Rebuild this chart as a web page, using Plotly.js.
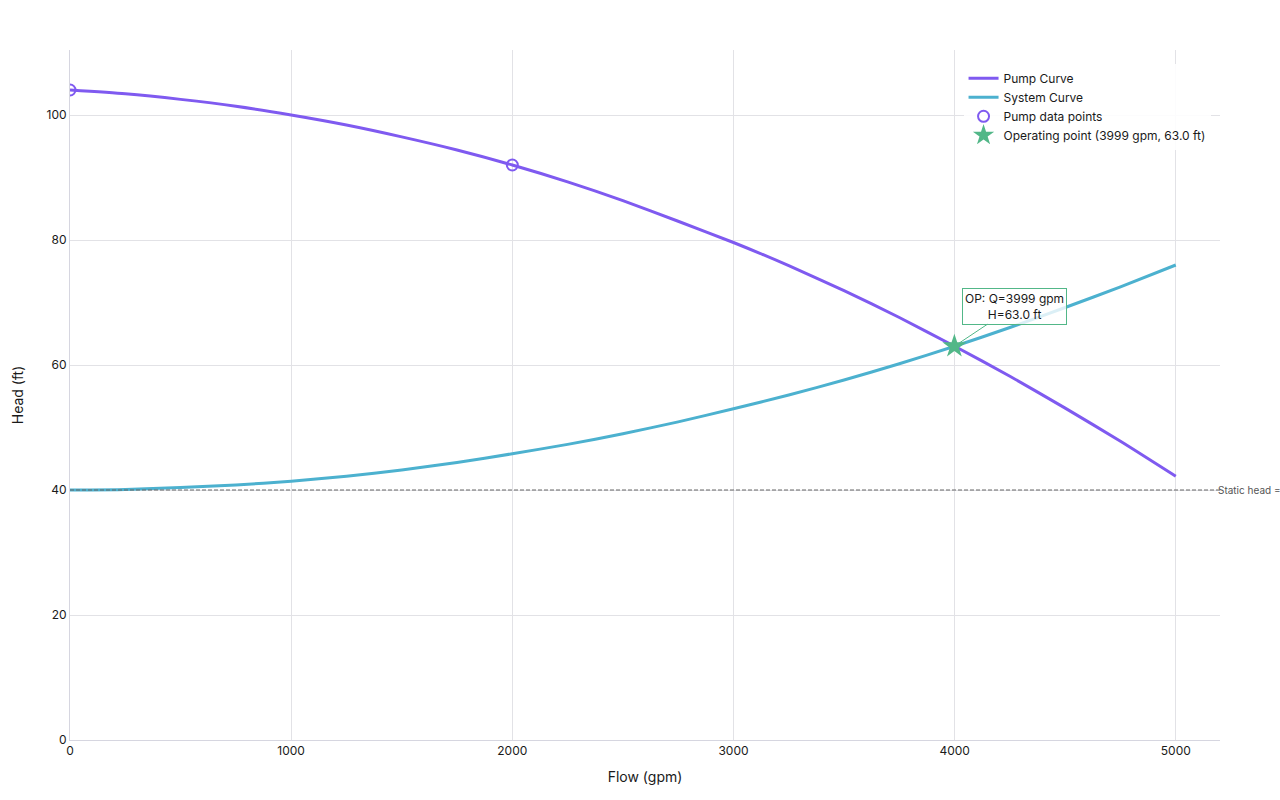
<!DOCTYPE html>
<html>
<head>
<meta charset="utf-8">
<script src="https://cdn.plot.ly/plotly-3.0.1.min.js"></script>
<style>html,body{margin:0;padding:0;background:#fff;}#chart{width:1280px;height:800px;}</style>
</head>
<body>
<div id="chart"></div>
<script>
// Flow values (gpm) for the curves
var flowGpm = [0, 250, 500, 750, 1000, 1250, 1500, 1750, 2000, 2250, 2500, 2750, 3000, 3250, 3500, 3750, 4000, 4250, 4500, 4750, 5000];
// Pump curve head (ft)
var pumpHead = [104, 103.4, 102.5, 101.4, 100, 98.4, 96.5, 94.4, 92, 89.3, 86.3, 83.0, 79.6, 75.9, 71.9, 67.6, 63.0, 58.2, 53.1, 47.8, 42.2];
// System curve head (ft)
var systemHead = [40, 40.1, 40.4, 40.8, 41.4, 42.2, 43.2, 44.4, 45.8, 47.3, 49.0, 50.9, 53.0, 55.2, 57.6, 60.2, 63.0, 66.0, 69.2, 72.5, 76.0];
// Pump data points
var pumpDataFlow = [0, 2000];
var pumpDataHead = [104, 92];
// Operating point
var opFlow = [3999];
var opHead = [63.0];
var staticHead = 40;

var font = "Inter, 'Helvetica Neue', Arial, sans-serif";

var traces = [
  {x: flowGpm, y: pumpHead, mode: 'lines', name: 'Pump Curve', line: {color: '#7f5af0', width: 3, shape: 'spline', smoothing: 0.6}},
  {x: flowGpm, y: systemHead, mode: 'lines', name: 'System Curve', line: {color: '#4cb1cf', width: 3, shape: 'spline', smoothing: 0.6}},
  {x: pumpDataFlow, y: pumpDataHead, mode: 'markers', name: 'Pump data points',
   marker: {symbol: 'circle-open', size: 11, color: '#7f5af0', line: {width: 2, color: '#7f5af0'}}},
  {x: opFlow, y: opHead, mode: 'markers', name: 'Operating point (' + opFlow[0] + ' gpm, ' + opHead[0].toFixed(1) + ' ft)',
   marker: {symbol: 'star', size: 18, color: '#52b788'}}
];

var layout = {
  width: 1280, height: 800,
  margin: {l: 70, r: 60, t: 50, b: 60},
  paper_bgcolor: '#ffffff', plot_bgcolor: '#ffffff',
  font: {family: font, size: 12, color: '#1a1a1a'},
  showlegend: true,
  legend: {x: 0.777, y: 0.98, xanchor: 'left', yanchor: 'top', bgcolor: 'rgba(255,255,255,0.9)', font: {size: 12, family: font, color: '#1a1a1a'}},
  xaxis: {
    title: {text: 'Flow (gpm)', font: {size: 14, family: font}, standoff: 14},
    range: [0, 5200], dtick: 1000, tick0: 0,
    showgrid: true, gridcolor: '#e2e2e6', zeroline: false,
    showline: true, linecolor: '#d6d6e0', linewidth: 1,
    ticks: '', tickfont: {size: 12}, automargin: false
  },
  yaxis: {
    title: {text: 'Head (ft)', font: {size: 14, family: font}, standoff: 19},
    range: [0, 110.4], dtick: 20, tick0: 0,
    showgrid: true, gridcolor: '#e2e2e6', zeroline: false,
    showline: true, linecolor: '#d6d6e0', linewidth: 1,
    ticks: '', tickfont: {size: 12}, automargin: false
  },
  shapes: [
    {type: 'line', xref: 'paper', x0: 0, x1: 1, yref: 'y', y0: staticHead, y1: staticHead,
     line: {color: '#666', width: 1, dash: '4px,2px'}}
  ],
  annotations: [
    {xref: 'paper', x: 1, yref: 'y', y: staticHead, xanchor: 'left', yanchor: 'middle', xshift: -4,
     text: 'Static head = ' + staticHead + ' ft', showarrow: false, font: {size: 10, color: '#555', family: font}},
    {x: opFlow[0], y: opHead[0], xref: 'x', yref: 'y',
     text: 'OP: Q=' + opFlow[0] + ' gpm<br>H=' + opHead[0].toFixed(1) + ' ft',
     showarrow: true, arrowhead: 0, arrowwidth: 1, arrowcolor: '#52b788', ax: 60, ay: -40,
     bordercolor: '#52b788', borderwidth: 1, borderpad: 2, bgcolor: 'rgba(255,255,255,0.8)',
     font: {size: 12, color: '#1a1a1a', family: font}}
  ]
};

Plotly.newPlot('chart', traces, layout, {displayModeBar: false, responsive: false});
</script>
</body>
</html>
